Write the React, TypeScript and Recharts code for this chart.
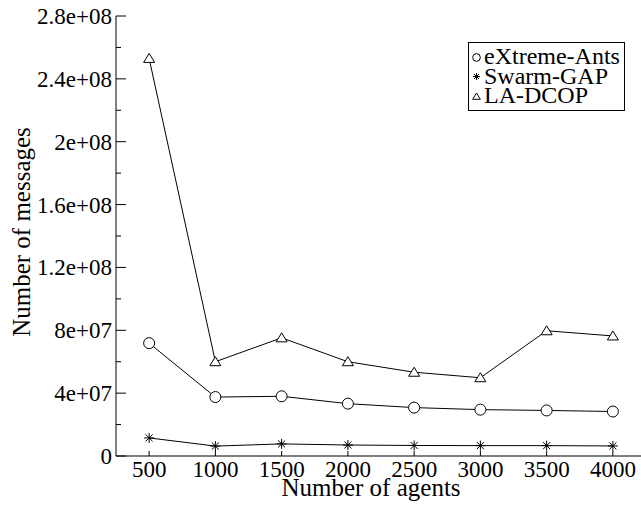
import React from "react";
import { Legend, Line, LineChart, XAxis, YAxis } from "recharts";

const agents = [500, 1000, 1500, 2000, 2500, 3000, 3500, 4000];
const extremeAnts = [7.18e7, 3.75e7, 3.8e7, 3.33e7, 3.08e7, 2.95e7, 2.9e7, 2.83e7];
const swarmGap = [1.15e7, 6.3e6, 7.7e6, 7.0e6, 6.7e6, 6.6e6, 6.6e6, 6.4e6];
const laDcop = [2.53e8, 6.0e7, 7.52e7, 6.0e7, 5.33e7, 4.98e7, 7.97e7, 7.64e7];

const xTicks = [500, 1000, 1500, 2000, 2500, 3000, 3500, 4000];
const yTicks = [0, 2e7, 4e7, 6e7, 8e7, 1e8, 1.2e8, 1.4e8, 1.6e8, 1.8e8, 2e8, 2.2e8, 2.4e8, 2.6e8, 2.8e8];
const yLabels: Record<number, string> = {
  0: "0",
  40000000: "4e+07",
  80000000: "8e+07",
  120000000: "1.2e+08",
  160000000: "1.6e+08",
  200000000: "2e+08",
  240000000: "2.4e+08",
  280000000: "2.8e+08",
};

const series = [
  { key: "ants", name: "eXtreme-Ants", values: extremeAnts, marker: "circle" },
  { key: "gap", name: "Swarm-GAP", values: swarmGap, marker: "star" },
  { key: "dcop", name: "LA-DCOP", values: laDcop, marker: "triangle" },
];

const data = agents.map((a, i) => {
  const row: Record<string, number> = { agents: a };
  series.forEach((s) => (row[s.key] = s.values[i]));
  return row;
});

const FONT = "'Liberation Serif', 'Times New Roman', serif";

function Marker({ kind, cx, cy, s = 1 }: { kind: string; cx: number; cy: number; s?: number }) {
  if (kind === "circle") {
    return <circle cx={cx} cy={cy} r={5.5 * s} fill="#fff" stroke="#000" strokeWidth={1} />;
  }
  if (kind === "triangle") {
    const h = 5 * s;
    return (
      <polygon
        points={`${cx},${cy - h} ${cx - h * 1.1},${cy + h * 0.8} ${cx + h * 1.1},${cy + h * 0.8}`}
        fill="#fff"
        stroke="#000"
        strokeWidth={1}
      />
    );
  }
  const r = 5 * s;
  const d = r * 0.707;
  return (
    <g stroke="#000" strokeWidth={1}>
      <line x1={cx - r} y1={cy} x2={cx + r} y2={cy} />
      <line x1={cx} y1={cy - r} x2={cx} y2={cy + r} />
      <line x1={cx - d} y1={cy - d} x2={cx + d} y2={cy + d} />
      <line x1={cx - d} y1={cy + d} x2={cx + d} y2={cy - d} />
    </g>
  );
}

const makeDot = (kind: string) => (props: any) => {
  const { cx, cy, index } = props;
  if (cx == null || cy == null) return <g key={index} />;
  return <Marker key={index} kind={kind} cx={cx} cy={cy} />;
};

const isMajor = (v: number) => v % 4e7 === 0;

function LeftTick(props: any) {
  const { x, y, payload } = props;
  const v = payload.value as number;
  const major = isMajor(v);
  return (
    <g>
      <line x1={x} x2={x + (major ? 10 : 5)} y1={y} y2={y} stroke="#000" />
      {major && (
        <text x={x - 4} y={y} dy="0.35em" textAnchor="end" fontSize={23} fontFamily={FONT} fill="#000">
          {yLabels[v]}
        </text>
      )}
    </g>
  );
}

function RightTick(props: any) {
  const { x, y, payload } = props;
  const major = isMajor(payload.value as number);
  return <line x1={x - (major ? 10 : 5)} x2={x} y1={y} y2={y} stroke="#000" />;
}

function BottomTick(props: any) {
  const { x, y, payload } = props;
  return (
    <g>
      <line x1={x} x2={x} y1={y} y2={y - 5} stroke="#000" />
      <text x={x} y={y + 3} dy="0.78em" textAnchor="middle" fontSize={23} fontFamily={FONT} fill="#000">
        {payload.value}
      </text>
    </g>
  );
}

function TopTick(props: any) {
  const { x, y } = props;
  return <line x1={x} x2={x} y1={y} y2={y + 5} stroke="#000" />;
}

function LegendBox() {
  return (
    <div
      style={{
        width: 157,
        boxSizing: "border-box",
        border: "1px solid #000",
        background: "#fff",
        padding: "4px 0 4px 2px",
        fontFamily: FONT,
        fontSize: 24,
        lineHeight: "19.5px",
        color: "#000",
      }}
    >
      {series.map((s) => (
        <div key={s.key} style={{ display: "flex", alignItems: "center", whiteSpace: "nowrap", height: 19.5 }}>
          <svg width={11} height={12} style={{ marginRight: 2 }}>
            <Marker kind={s.marker} cx={5.5} cy={6.5} s={0.7} />
          </svg>
          <span>{s.name}</span>
        </div>
      ))}
    </div>
  );
}

export default function App() {
  return (
    <div style={{ position: "absolute", left: 0, top: 0, width: 641, height: 505, overflow: "hidden", background: "#fff" }}>
      <LineChart width={660} height={505} data={data} margin={{ top: 16, right: 14, left: 0, bottom: 0 }}>
        <XAxis
          dataKey="agents"
          type="number"
          domain={[250, 4250]}
          ticks={xTicks}
          interval={0}
          tickSize={0}
          tickMargin={0}
          tick={<BottomTick />}
          axisLine={{ stroke: "#000" }}
          height={49}
          label={{ value: "Number of agents", position: "insideBottom", offset: 9, dx: -10, fontSize: 25, fontFamily: FONT, fill: "#000" }}
        />
        <XAxis
          xAxisId="top"
          dataKey="agents"
          orientation="top"
          type="number"
          domain={[250, 4250]}
          ticks={xTicks}
          interval={0}
          tickSize={0}
          tickMargin={0}
          tick={<TopTick />}
          axisLine={{ stroke: "#000" }}
          height={0}
        />
        <YAxis
          type="number"
          domain={[0, 2.8e8]}
          ticks={yTicks}
          interval={0}
          tickSize={0}
          tickMargin={0}
          tick={<LeftTick />}
          axisLine={{ stroke: "#000" }}
          width={116}
          label={{ value: "Number of messages", angle: -90, position: "center", dx: -37, dy: -4, fontSize: 25, fontFamily: FONT, fill: "#000" }}
        />
        <YAxis
          yAxisId="right"
          orientation="right"
          type="number"
          domain={[0, 2.8e8]}
          ticks={yTicks}
          interval={0}
          tickSize={0}
          tickMargin={0}
          tick={<RightTick />}
          axisLine={{ stroke: "#000" }}
          width={0}
        />
        <Legend
          layout="vertical"
          align="center"
          verticalAlign="middle"
          content={() => <LegendBox />}
          wrapperStyle={{ left: 468, top: 42, width: "auto", height: "auto" }}
        />
        {series.map((s) => (
          <Line
            key={s.key}
            dataKey={s.key}
            name={s.name}
            type="linear"
            stroke="#000"
            strokeWidth={1}
            dot={makeDot(s.marker)}
            activeDot={false}
            isAnimationActive={false}
          />
        ))}
      </LineChart>
    </div>
  );
}
